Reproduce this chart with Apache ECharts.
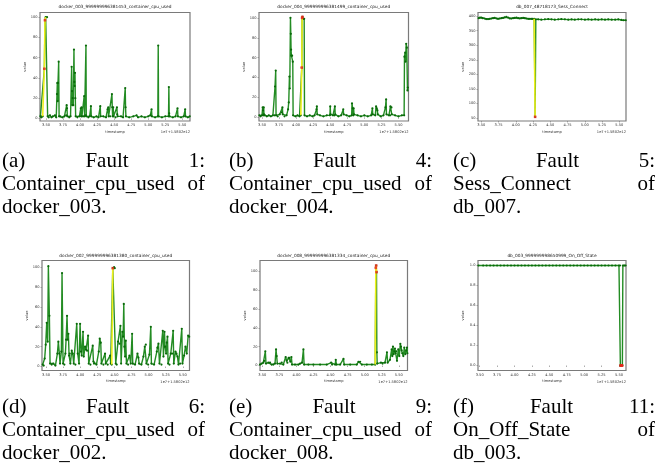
<!DOCTYPE html>
<html><head><meta charset="utf-8">
<script src="https://cdn.jsdelivr.net/npm/echarts@6/dist/echarts.min.js"></script>
<style>html,body{margin:0;padding:0;background:#fff}#c{width:658px;height:464px}</style>
</head><body><div id="c"></div>
<script>
// ---------- DATA ----------
const xTicks = [3.50, 3.75, 4.00, 4.25, 4.50, 4.75, 5.00, 5.25, 5.50];
const yTicksCpu = [0, 20, 40, 60, 80, 100];
const yTicksSess = [50, 100, 150, 200, 250, 300, 350, 400];
const yTicksState = [0, 0.2, 0.4, 0.6, 0.8, 1.0];
const offsetText = '1e7+1.5802e12';
const xName = 'timestamp';
const yName = 'value';

const titleA = 'docker_003_999999996381453_container_cpu_used';
const titleB = 'docker_004_999999996381499_container_cpu_used';
const titleC = 'db_007_48718173_Sess_Connect';
const titleD = 'docker_002_999999996381380_container_cpu_used';
const titleE = 'docker_008_999999996381334_container_cpu_used';
const titleF = 'db_003_999999998650999_On_Off_State';

const capA = [['(a)', 'Fault', '1:'], ['Container_cpu_used', 'of'], ['docker_003.']];
const capB = [['(b)', 'Fault', '4:'], ['Container_cpu_used', 'of'], ['docker_004.']];
const capC = [['(c)', 'Fault', '5:'], ['Sess_Connect', 'of'], ['db_007.']];
const capD = [['(d)', 'Fault', '6:'], ['Container_cpu_used', 'of'], ['docker_002.']];
const capE = [['(e)', 'Fault', '9:'], ['Container_cpu_used', 'of'], ['docker_008.']];
const capF = [['(f)', 'Fault', '11:'], ['On_Off_State', 'of'], ['db_003.']];

// (a) docker_003
const aNormal = [[3.418,2],[3.430,1],[3.445,2],[3.451,2],[3.476,49],[3.485,97],[3.495,100],[3.515,100],[3.524,2],[3.540,1],[3.559,3],[3.580,1],[3.600,2],[3.632,3],[3.650,1],[3.661,24],[3.666,35],[3.671,17],[3.676,35],[3.686,56],[3.692,2],[3.710,2],[3.740,1],[3.770,2],[3.795,3],[3.803,13],[3.808,10],[3.813,2],[3.840,1],[3.860,2],[3.876,51],[3.881,27],[3.886,13],[3.891,20],[3.900,13],[3.910,68],[3.915,36],[3.920,32],[3.925,45],[3.930,20],[3.935,2],[3.960,1],[3.990,2],[4.010,10],[4.015,2],[4.022,11],[4.027,2],[4.045,2],[4.060,22],[4.066,2],[4.080,3],[4.086,72],[4.091,2],[4.120,1],[4.140,2],[4.159,12],[4.164,2],[4.200,1],[4.240,2],[4.270,1],[4.296,12],[4.301,2],[4.340,2],[4.380,1],[4.403,9],[4.413,11],[4.418,2],[4.440,2],[4.467,24],[4.472,11],[4.477,2],[4.486,11],[4.491,2],[4.520,1],[4.540,11],[4.545,4],[4.550,2],[4.600,2],[4.630,1],[4.662,30],[4.667,11],[4.672,2],[4.720,1],[4.780,2],[4.828,3],[4.850,1],[4.900,2],[4.950,1],[4.999,2],[5.030,3],[5.048,9],[5.053,2],[5.100,1],[5.140,2],[5.146,72],[5.151,2],[5.200,1],[5.250,2],[5.297,2],[5.302,31],[5.307,5],[5.312,2],[5.360,1],[5.400,2],[5.429,10],[5.434,2],[5.480,1],[5.520,2],[5.541,9],[5.546,2],[5.580,1],[5.608,2]];
const aFault = [[3.451,2],[3.476,49],[3.485,97],[3.495,100]];
const aAnom = [[3.476,49],[3.485,97]];

// (b) docker_004
const bNormal = [[3.462,2],[3.480,1],[3.500,2],[3.510,10],[3.515,7],[3.520,2],[3.525,10],[3.529,3],[3.539,2],[3.570,1],[3.600,2],[3.630,1],[3.660,2],[3.686,2],[3.691,31],[3.701,47],[3.706,2],[3.730,1],[3.760,3],[3.789,5],[3.799,10],[3.804,3],[3.830,1],[3.860,2],[3.882,8],[3.892,15],[3.902,41],[3.907,29],[3.917,100],[3.922,84],[3.926,68],[3.931,62],[3.941,62],[3.951,56],[3.956,2],[3.990,1],[4.020,2],[4.050,1],[4.069,2],[4.083,50],[4.088,100],[4.093,101],[4.103,99],[4.118,99],[4.123,2],[4.160,1],[4.200,2],[4.240,1],[4.270,2],[4.299,8],[4.304,11],[4.309,3],[4.350,2],[4.400,1],[4.450,2],[4.495,2],[4.500,11],[4.505,3],[4.540,2],[4.563,2],[4.568,11],[4.573,3],[4.620,1],[4.660,2],[4.691,8],[4.696,3],[4.740,2],[4.780,1],[4.814,2],[4.819,14],[4.829,9],[4.838,2],[4.843,9],[4.848,3],[4.900,2],[4.950,1],[5.000,2],[5.050,1],[5.100,2],[5.118,9],[5.123,3],[5.160,2],[5.172,11],[5.181,9],[5.191,7],[5.196,3],[5.240,1],[5.280,2],[5.309,10],[5.319,18],[5.324,3],[5.360,2],[5.377,2],[5.382,11],[5.397,10],[5.402,3],[5.450,2],[5.500,1],[5.550,2],[5.583,2],[5.588,61],[5.598,65],[5.603,56],[5.613,74],[5.622,70],[5.632,27],[5.637,30]];
const bFault = [[4.069,2],[4.083,50],[4.088,100],[4.093,101]];
const bAnom = [[4.083,50],[4.088,100],[4.093,101]];

// (c) db_007 Sess_Connect
const cNormal = [[3.461,393],[3.480,395],[3.500,395],[3.520,393],[3.548,392],[3.570,390],[3.597,390],[3.620,391],[3.645,392],[3.670,393],[3.694,394],[3.720,392],[3.742,391],[3.765,392],[3.791,393],[3.815,394],[3.839,396],[3.863,398],[3.888,395],[3.912,392],[3.935,392],[3.960,393],[3.985,394],[4.009,395],[4.033,393],[4.057,392],[4.080,393],[4.106,394],[4.130,393],[4.154,392],[4.180,391],[4.203,391],[4.225,391],[4.241,391],[4.266,391],[4.280,54],[4.290,389],[4.324,389],[4.370,388],[4.421,389],[4.470,390],[4.517,389],[4.565,388],[4.614,389],[4.660,390],[4.711,389],[4.760,388],[4.808,389],[4.855,388],[4.905,389],[4.950,389],[5.002,388],[5.050,389],[5.099,388],[5.150,389],[5.196,388],[5.245,389],[5.293,388],[5.340,389],[5.390,388],[5.440,388],[5.486,389],[5.530,387],[5.559,386],[5.593,386]];
const cFault = [[4.266,391],[4.280,54]];
const cAnom = [[4.280,54]];

// (d) docker_002
const dNormal = [[3.451,2],[3.466,1],[3.480,8],[3.495,22],[3.510,44],[3.524,25],[3.534,101],[3.549,51],[3.559,3],[3.583,2],[3.607,3],[3.637,1],[3.666,13],[3.680,25],[3.695,13],[3.705,3],[3.724,15],[3.734,94],[3.749,3],[3.768,2],[3.783,13],[3.793,27],[3.807,51],[3.817,27],[3.827,33],[3.837,11],[3.846,13],[3.856,3],[3.876,16],[3.890,13],[3.905,3],[3.929,2],[3.949,43],[3.963,13],[3.983,3],[3.998,43],[4.012,15],[4.022,11],[4.041,35],[4.051,10],[4.071,20],[4.085,17],[4.100,16],[4.115,31],[4.124,3],[4.149,2],[4.183,21],[4.193,5],[4.202,3],[4.237,2],[4.271,15],[4.285,28],[4.300,24],[4.310,3],[4.339,2],[4.363,13],[4.373,3],[4.402,2],[4.437,11],[4.446,3],[4.461,2],[4.476,99],[4.495,100],[4.505,99],[4.519,3],[4.534,2],[4.553,25],[4.573,23],[4.588,41],[4.598,3],[4.617,35],[4.627,30],[4.637,63],[4.646,20],[4.656,10],[4.666,26],[4.676,3],[4.700,2],[4.720,11],[4.739,3],[4.759,33],[4.768,3],[4.802,2],[4.837,13],[4.851,9],[4.861,3],[4.895,2],[4.924,10],[4.944,20],[4.959,22],[4.968,3],[4.993,2],[5.012,12],[5.032,40],[5.041,3],[5.080,2],[5.120,15],[5.129,19],[5.144,23],[5.159,3],[5.188,2],[5.207,36],[5.217,10],[5.232,35],[5.241,20],[5.256,13],[5.266,24],[5.276,30],[5.285,3],[5.305,2],[5.324,13],[5.344,13],[5.359,36],[5.368,3],[5.393,15],[5.407,13],[5.422,10],[5.437,2],[5.461,3],[5.485,38],[5.495,3],[5.519,11],[5.539,20],[5.558,13],[5.578,31],[5.593,30]];
const dFault = [[4.461,2],[4.476,99]];
const dAnom = [[4.476,99]];

// (e) docker_008
const eNormal = [[3.466,1],[3.490,2],[3.515,3],[3.529,5],[3.544,15],[3.554,2],[3.588,3],[3.613,3],[3.637,1],[3.661,1],[3.686,2],[3.701,17],[3.710,10],[3.720,2],[3.759,2],[3.784,3],[3.808,1],[3.842,9],[3.857,5],[3.867,3],[3.886,8],[3.896,8],[3.911,4],[3.926,9],[3.935,1],[3.979,1],[4.028,1],[4.053,2],[4.082,3],[4.102,17],[4.112,1],[4.175,1],[4.248,1],[4.346,1],[4.444,1],[4.508,3],[4.522,1],[4.567,1],[4.576,6],[4.586,1],[4.640,1],[4.689,7],[4.699,1],[4.787,1],[4.884,1],[4.909,4],[4.933,4],[4.958,1],[5.031,1],[5.105,1],[5.154,1],[5.163,103.5],[5.168,106],[5.173,99],[5.178,14],[5.183,2],[5.238,3],[5.262,2],[5.297,3],[5.326,14],[5.336,3],[5.370,6],[5.395,17],[5.405,10],[5.414,20],[5.424,12],[5.434,15],[5.443,18],[5.453,13],[5.463,15],[5.473,5],[5.492,17],[5.507,10],[5.522,23],[5.531,20],[5.541,16],[5.551,13],[5.566,10],[5.580,19],[5.595,12],[5.609,16],[5.619,19],[5.625,13]];
const eFault = [[5.154,1],[5.163,103.5],[5.168,106],[5.173,99]];
const eAnom = [[5.163,103.5],[5.168,106],[5.173,99]];

// (f) db_003 On_Off_State
const fNormal = [[3.482,1],[3.55,1],[3.60,1],[3.65,1],[3.70,1],[3.75,1],[3.80,1],[3.85,1],[3.90,1],[3.95,1],[4.00,1],[4.05,1],[4.10,1],[4.15,1],[4.20,1],[4.25,1],[4.30,1],[4.35,1],[4.40,1],[4.45,1],[4.50,1],[4.55,1],[4.60,1],[4.65,1],[4.70,1],[4.75,1],[4.80,1],[4.85,1],[4.90,1],[4.95,1],[5.00,1],[5.05,1],[5.10,1],[5.15,1],[5.20,1],[5.25,1],[5.30,1],[5.35,1],[5.40,1],[5.45,1],[5.50,1],[5.515,1],[5.520,0],[5.549,0],[5.556,1],[5.575,1],[5.595,1]];
const fFault = [[5.520,0],[5.549,0]];
const fAnom = [[5.522,0],[5.530,0],[5.538,0],[5.546,0]];

// ---------- LAYOUT ----------
const topCap = [161, 184, 207];
const botCap = [407, 430, 453];
const panels = [
  {grid:{left:40,top:12.5,width:150,height:108.5}, xr:[3.412,5.612], yr:[-2.6,104.6], yTicks:yTicksCpu, dec:0, title:titleA, normal:aNormal, fault:aFault, anom:aAnom, cap:capA, col:[2,205], capY:topCap, titleY:7.3},
  {grid:{left:259,top:12.5,width:149.5,height:108.5}, xr:[3.456,5.647], yr:[-3.7,105.4], yTicks:yTicksCpu, dec:0, title:titleB, normal:bNormal, fault:bFault, anom:bAnom, cap:capB, col:[229,432], capY:topCap, titleY:7.3},
  {grid:{left:478,top:12.5,width:148,height:108.5}, xr:[3.452,5.597], yr:[39.7,412.6], yTicks:yTicksSess, dec:0, title:titleC, normal:cNormal, fault:cFault, anom:cAnom, cap:capC, col:[453,655], capY:topCap, titleY:7.3},
  {grid:{left:42,top:260.5,width:147.5,height:110}, xr:[3.441,5.598], yr:[-4,106.7], yTicks:yTicksCpu, dec:0, title:titleD, normal:dNormal, fault:dFault, anom:dAnom, cap:capD, col:[2,205], capY:botCap, titleY:255.7},
  {grid:{left:260,top:260.5,width:147.5,height:110}, xr:[3.466,5.627], yr:[-5.3,111.3], yTicks:yTicksCpu, dec:0, title:titleE, normal:eNormal, fault:eFault, anom:eAnom, cap:capE, col:[229,432], capY:botCap, titleY:255.7},
  {grid:{left:478,top:260.5,width:148,height:110}, xr:[3.476,5.601], yr:[-0.05,1.05], yTicks:yTicksState, dec:1, title:titleF, normal:fNormal, fault:fFault, anom:fAnom, cap:capF, col:[453,655], capY:botCap, titleY:255.7}
];

const small = 'DejaVu Sans';
const capFontSize = 21;
const capFont = capFontSize + 'px "Liberation Serif"';
const mctx = document.createElement('canvas').getContext('2d');
mctx.font = capFont;

const grids = [], xAxes = [], yAxes = [], series = [], graphics = [];
panels.forEach((p, i) => {
  grids.push(Object.assign({show:true, borderColor:'#7a7a7a', borderWidth:1.2, backgroundColor:'transparent', containLabel:false}, p.grid));
  xAxes.push({
    type:'value', gridIndex:i, min:p.xr[0], max:p.xr[1],
    name:xName, nameLocation:'middle', nameGap:9,
    nameTextStyle:{fontFamily:small, fontSize:3.6, color:'#333'},
    axisLine:{show:false}, splitLine:{show:false},
    axisTick:{show:true, length:1.5, lineStyle:{color:'#777', width:0.6}, customValues:xTicks},
    axisLabel:{fontFamily:small, fontSize:3.6, color:'#333', margin:2.5, customValues:xTicks, formatter:v=>v.toFixed(2)}
  });
  yAxes.push({
    type:'value', gridIndex:i, min:p.yr[0], max:p.yr[1],
    name:yName, nameLocation:'middle', nameGap: p.dec ? 13 : 11, nameRotate:90,
    nameTextStyle:{fontFamily:small, fontSize:3.6, color:'#333'},
    axisLine:{show:false}, splitLine:{show:false},
    axisTick:{show:true, length:1.5, lineStyle:{color:'#777', width:0.6}, customValues:p.yTicks},
    axisLabel:{fontFamily:small, fontSize:3.6, color:'#333', margin:2.5, customValues:p.yTicks, formatter:v=>v.toFixed(p.dec)}
  });
  series.push({
    type:'line', xAxisIndex:i, yAxisIndex:i, data:p.normal, z:2,
    symbol:'circle', symbolSize:2.2, showSymbol:true, showAllSymbol:true,
    lineStyle:{color:'#238c23', width:1.4}, itemStyle:{color:'#0a6a0a'},
    silent:true, animation:false
  });
  series.push({
    type:'line', xAxisIndex:i, yAxisIndex:i, data:p.fault, z:3,
    symbol:'none', lineStyle:{color:'#f0f01e', width:1.6}, silent:true, animation:false
  });
  series.push({
    type:'scatter', xAxisIndex:i, yAxisIndex:i, data:p.anom, z:4,
    symbol:'rect', symbolSize:2.6, itemStyle:{color:'#e8231a'}, silent:true, animation:false
  });
  const g = p.grid;
  graphics.push({type:'text', x:g.left + g.width/2, y:p.titleY, z:10,
    style:{text:p.title, font:'4.3px "' + small + '"', fill:'#222', textAlign:'center', textVerticalAlign:'middle', align:'center', verticalAlign:'middle'}});
  graphics.push({type:'text', x:g.left + g.width, y:g.top + g.height + 11.5, z:10,
    style:{text:offsetText, font:'3.6px "' + small + '"', fill:'#333', textAlign:'right', textVerticalAlign:'middle', align:'right', verticalAlign:'middle'}});
  // justified caption
  p.cap.forEach((words, li) => {
    const L = p.col[0], R = p.col[1];
    const ws = words.map(w => mctx.measureText(w).width);
    const total = ws.reduce((s, w) => s + w, 0);
    const gap = words.length > 1 && li < p.cap.length - 1 ? (R - L - total) / (words.length - 1) : 0;
    let x = L;
    words.forEach((w, k) => {
      graphics.push({type:'text', x:x, y:p.capY[li], z:10,
        style:{text:w, font:capFont, fill:'#000', textAlign:'left', textVerticalAlign:'middle', align:'left', verticalAlign:'middle'}});
      x += ws[k] + gap;
    });
  });
});

const chart = echarts.init(document.getElementById('c'), null, {renderer:'canvas'});
chart.setOption({animation:false, grid:grids, xAxis:xAxes, yAxis:yAxes, series:series, graphic:graphics});
</script>
</body></html>
